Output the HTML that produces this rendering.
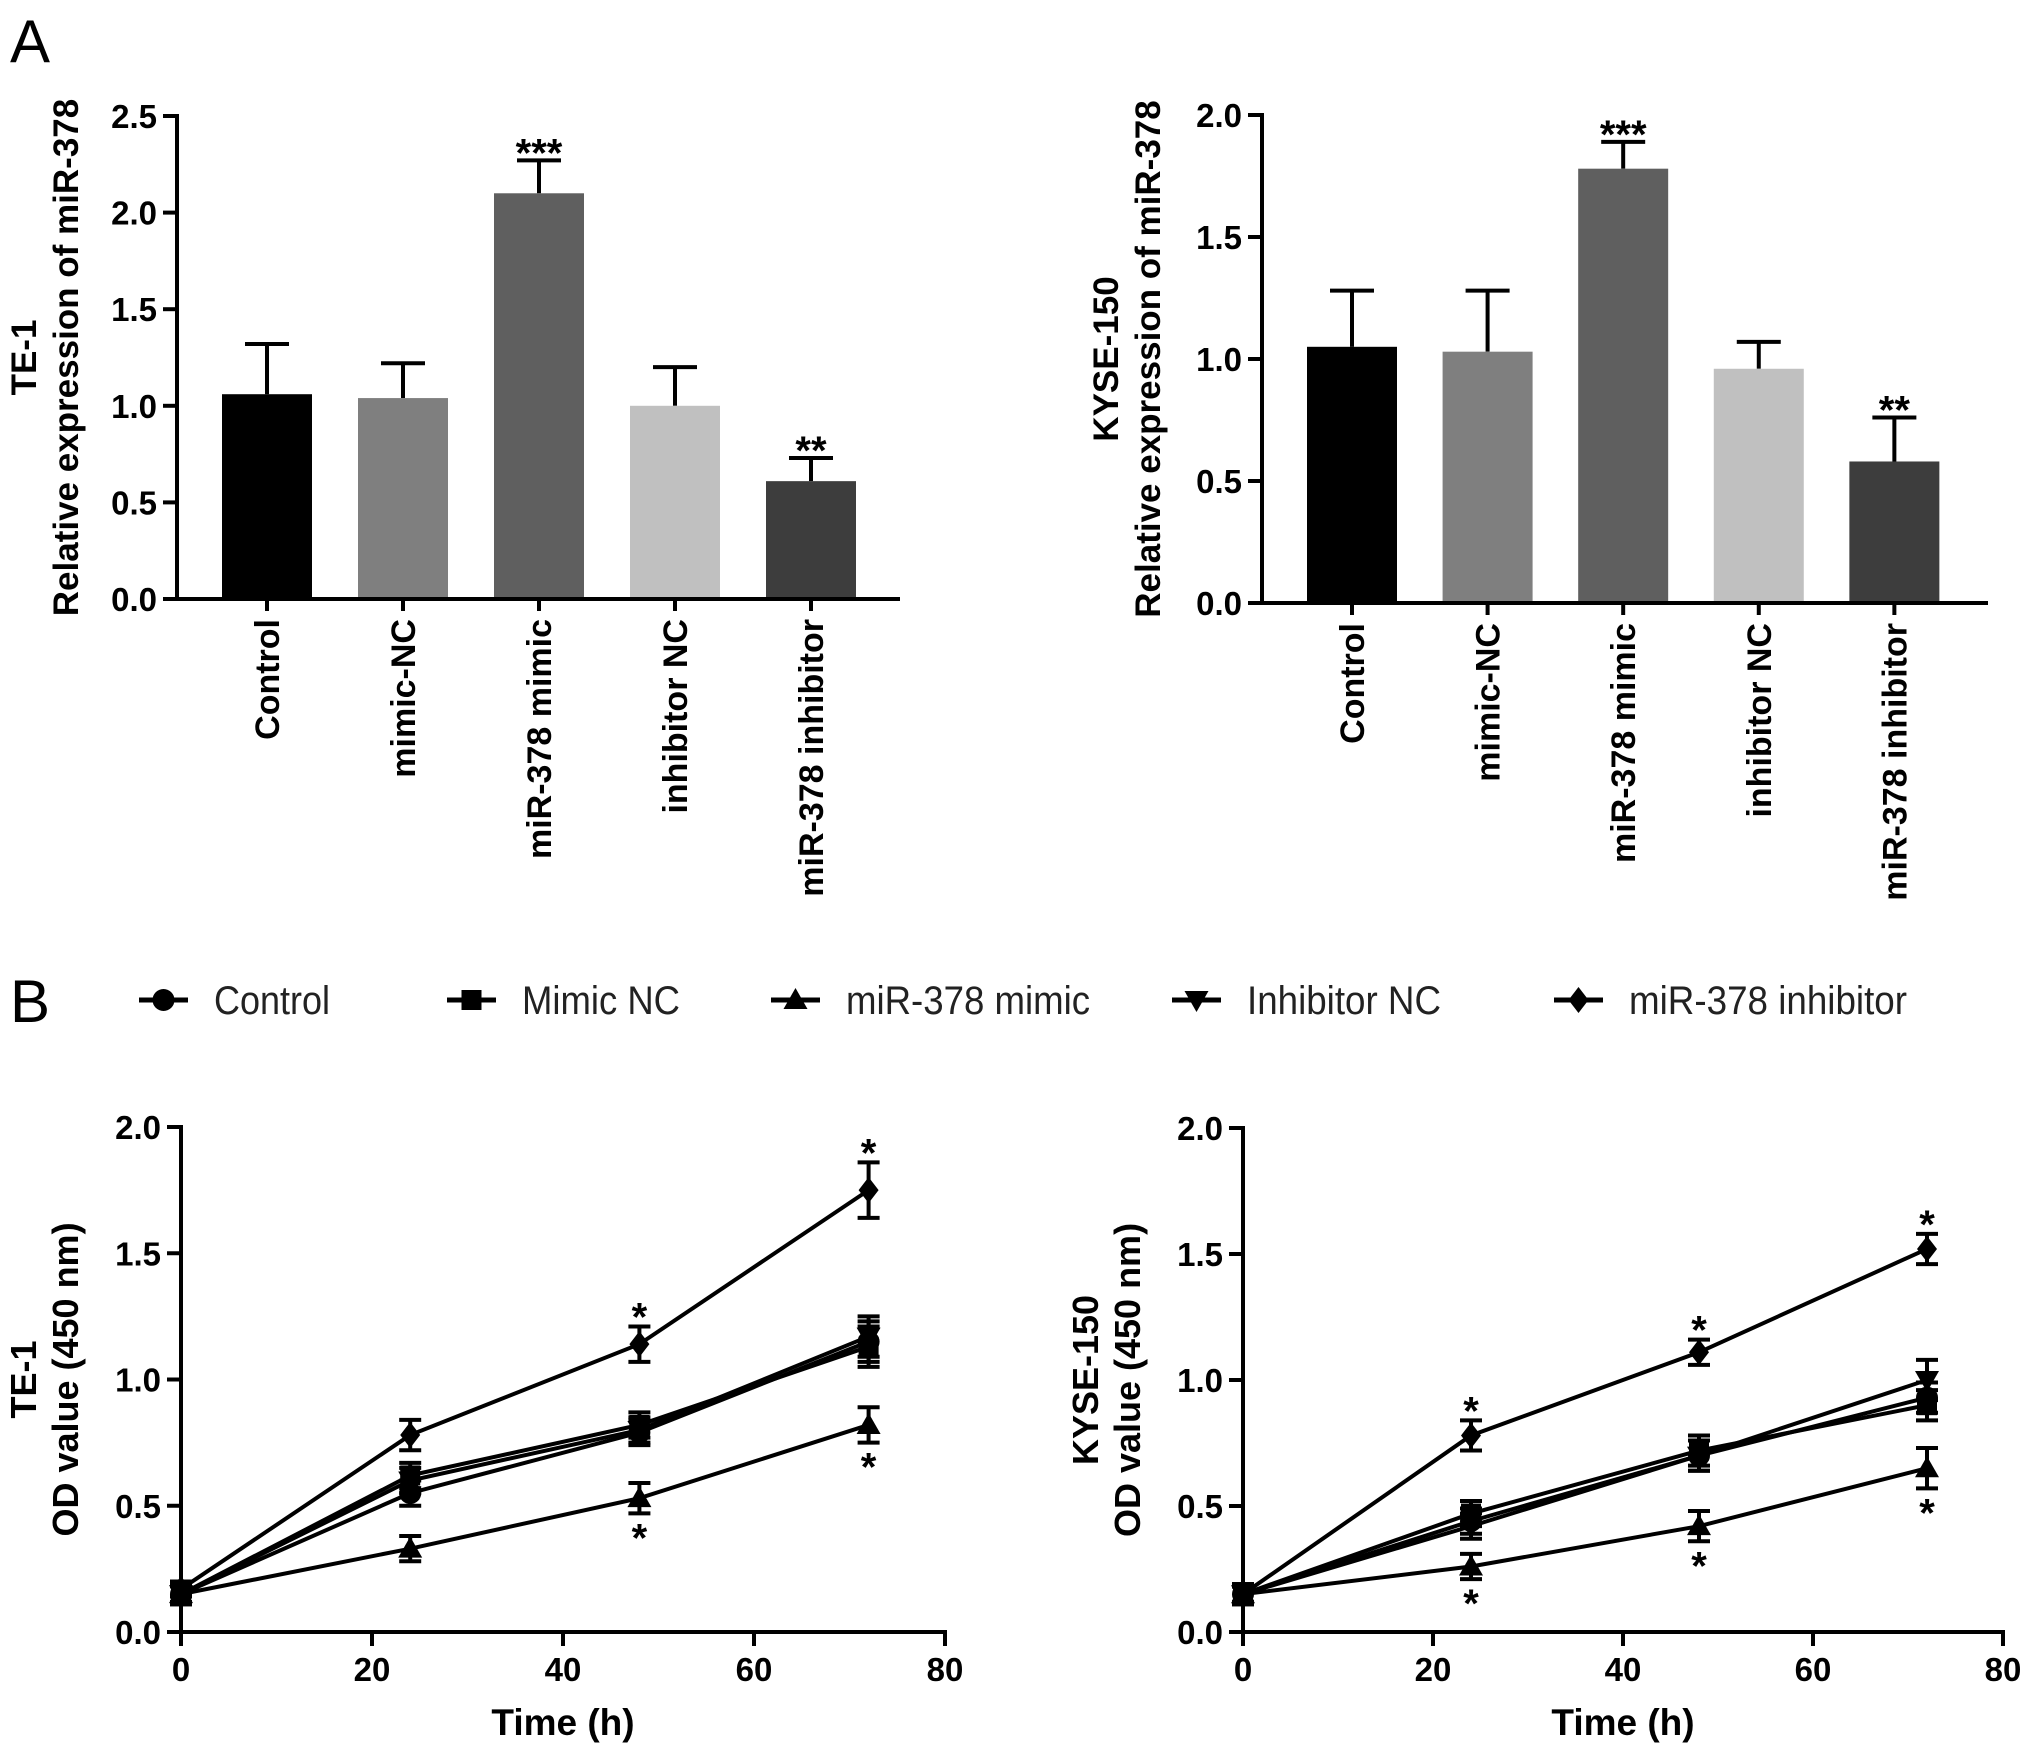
<!DOCTYPE html>
<html><head><meta charset="utf-8"><style>
html,body{margin:0;padding:0;background:#fff}
svg{display:block;font-family:"Liberation Sans",Arial,sans-serif}
</style></head><body>
<svg id="fig" width="2031" height="1753" viewBox="0 0 2031 1753" xmlns="http://www.w3.org/2000/svg">
<text x="10" y="62" font-size="60">A</text>
<text x="10" y="1022" font-size="60">B</text>
<g id="legend"></g>
</svg>
<script>
const barCategories = ["Control","mimic-NC","miR-378 mimic","inhibitor NC","miR-378 inhibitor"];
const barColors = ["#000000","#7f7f7f","#5f5f5f","#c0c0c0","#3d3d3d"];
const te1BarValues = [1.06,1.04,2.10,1.00,0.61];
const te1BarErrors = [0.26,0.18,0.17,0.20,0.12];
const te1BarStars = ["","","***","","**"];
const te1BarTicks = [0,0.5,1.0,1.5,2.0,2.5];
const kyseBarValues = [1.05,1.03,1.78,0.96,0.58];
const kyseBarErrors = [0.23,0.25,0.11,0.11,0.18];
const kyseBarStars = ["","","***","","**"];
const kyseBarTicks = [0,0.5,1.0,1.5,2.0];

const seriesNames = ["Control","Mimic NC","miR-378 mimic","Inhibitor NC","miR-378 inhibitor"];
const seriesMarkers = ["circle","square","triangle","itriangle","diamond"];
const times = [0,24,48,72];
const te1Lines = [
 [0.15,0.55,0.79,1.15],
 [0.15,0.62,0.82,1.13],
 [0.15,0.33,0.53,0.82],
 [0.15,0.60,0.80,1.17],
 [0.17,0.78,1.14,1.75]];
const te1Errs = [
 [0.04,0.05,0.05,0.08],
 [0.04,0.05,0.05,0.08],
 [0.03,0.05,0.06,0.07],
 [0.04,0.05,0.05,0.08],
 [0.03,0.06,0.07,0.11]];
const kyseLines = [
 [0.15,0.44,0.70,0.93],
 [0.15,0.47,0.72,0.90],
 [0.15,0.26,0.42,0.65],
 [0.15,0.42,0.70,1.00],
 [0.15,0.78,1.11,1.52]];
const kyseErrs = [
 [0.04,0.05,0.06,0.06],
 [0.04,0.05,0.06,0.06],
 [0.03,0.05,0.06,0.08],
 [0.04,0.05,0.06,0.08],
 [0.03,0.06,0.05,0.06]];
const te1StarsAbove = [[4,2],[4,3]];
const te1StarsBelow = [[2,2],[2,3]];
const kyseStarsAbove = [[4,1],[4,2],[4,3]];
const kyseStarsBelow = [[2,1],[2,2],[2,3]];
const lineYTicks = [0,0.5,1.0,1.5,2.0];
const lineXTicks = [0,20,40,60,80];

const NS="http://www.w3.org/2000/svg";
const svg=document.getElementById('fig');
function el(tag,attrs,parent,txt){const e=document.createElementNS(NS,tag);for(const k in attrs)e.setAttribute(k,attrs[k]);if(txt!==undefined)e.textContent=txt;(parent||svg).appendChild(e);return e;}

function barPanel(o){
  const g=el('g',{});
  
  
  const y=v=>o.y0-(v/o.ymax)*(o.y0-o.ytop);
  const bx=i=>o.x0+90+136*i*o.sp;
  barCategories.forEach((c,i)=>{
    const cx=bx(i), top=y(o.vals[i]), et=y(o.vals[i]+o.errs[i]);
    const eb=el('line',{x1:cx,x2:cx,y1:top,y2:et,stroke:'#000','stroke-width':4},g);
    
    
    const cap=el('line',{x1:cx-22,x2:cx+22,y1:et,y2:et,stroke:'#000','stroke-width':4},g);
    
    
    const r=el('rect',{x:cx-45,y:top,width:90,height:o.y0-top,fill:barColors[i]},g);
    
    
    if(o.stars[i]){const s=el('text',{x:cx,y:et+6,'font-size':40,'font-weight':'bold','text-anchor':'middle'},g,o.stars[i]);
      
      }
    el('line',{x1:cx,x2:cx,y1:o.y0,y2:o.y0+12,stroke:'#000','stroke-width':4},g);
    const lb=el('text',{transform:`translate(${cx+12},${o.y0+20}) rotate(-90)`,'font-size':34,'font-weight':'bold','text-anchor':'end'},g,c);
    
    
  });
  el('line',{x1:o.x0,x2:o.x0,y1:o.ytop-2,y2:o.y0+2,stroke:'#000','stroke-width':4},g);
  el('line',{x1:o.x0-14,x2:o.xend,y1:o.y0,y2:o.y0,stroke:'#000','stroke-width':4},g);
  o.ticks.forEach(t=>{el('line',{x1:o.x0-14,x2:o.x0,y1:y(t),y2:y(t),stroke:'#000','stroke-width':4},g);
    const tl=el('text',{x:o.x0-20,y:y(t)+12,'font-size':33,'font-weight':'bold','text-anchor':'end'},g,t.toFixed(1));
    
    });
  const cy=(o.ytop+o.y0)/2;
  const t1=el('text',{transform:`translate(${o.t1x},${cy}) rotate(-90)`,'font-size':35,'font-weight':'bold','text-anchor':'middle'},g,o.t1);
  
  
  const t2=el('text',{transform:`translate(${o.t2x},${cy}) rotate(-90)`,'font-size':35,'font-weight':'bold','text-anchor':'middle'},g,'Relative expression of miR-378');
  
  
}
barPanel({name:'te1-bar-chart',x0:177,y0:599,ytop:116,ymax:2.5,xend:900,sp:1,vals:te1BarValues,errs:te1BarErrors,stars:te1BarStars,ticks:te1BarTicks,t1:'TE-1',t1x:36,t2x:78});
barPanel({name:'kyse-bar-chart',x0:1262,y0:603,ytop:115,ymax:2.0,xend:1988,sp:0.997,vals:kyseBarValues,errs:kyseBarErrors,stars:kyseBarStars,ticks:kyseBarTicks,t1:'KYSE-150',t1x:1118,t2x:1160});

function marker(g,type,x,y,s){
  let m;
  if(type==='circle')m=el('circle',{cx:x,cy:y,r:s*0.55},g);
  else if(type==='square')m=el('rect',{x:x-s*0.5,y:y-s*0.5,width:s,height:s},g);
  else if(type==='triangle')m=el('polygon',{points:`${x},${y-s*0.6} ${x-s*0.6},${y+s*0.45} ${x+s*0.6},${y+s*0.45}`},g);
  else if(type==='itriangle')m=el('polygon',{points:`${x},${y+s*0.6} ${x-s*0.6},${y-s*0.45} ${x+s*0.6},${y-s*0.45}`},g);
  else m=el('polygon',{points:`${x},${y-s*0.65} ${x+s*0.5},${y} ${x},${y+s*0.65} ${x-s*0.5},${y}`},g);
  m.setAttribute('fill','#000');
  return m;
}

function linePanel(o){
  const g=el('g',{});
  
  
  const X=t=>o.x0+(t/80)*(o.xend-o.x0);
  const Y=v=>o.y0-(v/2)*(o.y0-o.ytop);
  o.lines.forEach((vals,si)=>{
    const pts=vals.map((v,i)=>X(times[i])+','+Y(v)).join(' ');
    const pl=el('polyline',{points:pts,fill:'none',stroke:'#000','stroke-width':4},g);
    
    
    vals.forEach((v,i)=>{
      const x=X(times[i]),e=o.errs[si][i];
      const eb=el('path',{d:`M${x},${Y(v-e)}V${Y(v+e)}M${x-11},${Y(v-e)}H${x+11}M${x-11},${Y(v+e)}H${x+11}`,stroke:'#000','stroke-width':4,fill:'none'},g);
      
      
      const m=marker(g,seriesMarkers[si],x,Y(v),20);
      
      
    });
  });
  o.above.forEach(([s,i])=>{const v=o.lines[s][i]+o.errs[s][i];
    const t=el('text',{x:X(times[i]),y:Y(v)+4,'font-size':40,'font-weight':'bold','text-anchor':'middle'},g,'*');
    
    });
  o.below.forEach(([s,i])=>{const v=o.lines[s][i]-o.errs[s][i];
    const t=el('text',{x:X(times[i]),y:Y(v)+38,'font-size':40,'font-weight':'bold','text-anchor':'middle'},g,'*');
    
    });
  el('line',{x1:o.x0,x2:o.x0,y1:o.ytop-2,y2:o.y0+14,stroke:'#000','stroke-width':4},g);
  el('line',{x1:o.x0-14,x2:o.xend+2,y1:o.y0,y2:o.y0,stroke:'#000','stroke-width':4},g);
  lineYTicks.forEach(t=>{el('line',{x1:o.x0-14,x2:o.x0,y1:Y(t),y2:Y(t),stroke:'#000','stroke-width':4},g);
    const tl=el('text',{x:o.x0-20,y:Y(t)+12,'font-size':33,'font-weight':'bold','text-anchor':'end'},g,t.toFixed(1));
    
    });
  lineXTicks.forEach(t=>{el('line',{x1:X(t),x2:X(t),y1:o.y0,y2:o.y0+14,stroke:'#000','stroke-width':4},g);
    const tl=el('text',{x:X(t),y:o.y0+49,'font-size':33,'font-weight':'bold','text-anchor':'middle'},g,String(t));
    
    });
  const xt=el('text',{x:(o.x0+o.xend)/2,y:o.y0+103,'font-size':37,'font-weight':'bold','text-anchor':'middle'},g,'Time (h)');
  
  
  const cy=(o.ytop+o.y0)/2;
  const t1=el('text',{transform:`translate(${o.t1x},${cy}) rotate(-90)`,'font-size':36,'font-weight':'bold','text-anchor':'middle'},g,o.t1);
  
  
  const t2=el('text',{transform:`translate(${o.t2x},${cy}) rotate(-90)`,'font-size':36,'font-weight':'bold','text-anchor':'middle'},g,'OD value (450 nm)');
  
  
}
linePanel({name:'te1-line-chart',x0:181,xend:945,y0:1632,ytop:1127,lines:te1Lines,errs:te1Errs,above:te1StarsAbove,below:te1StarsBelow,t1:'TE-1',t1x:36,t2x:78});
linePanel({name:'kyse-line-chart',x0:1243,xend:2003,y0:1632,ytop:1128,lines:kyseLines,errs:kyseErrs,above:kyseStarsAbove,below:kyseStarsBelow,t1:'KYSE-150',t1x:1098,t2x:1140});

const lg=document.getElementById('legend');
const legendX=[139,447,771,1172,1554];
const legendTextW=[116,158,244,194,278];
seriesNames.forEach((n,i)=>{
  const g=el('g',{},lg);
  
  
  el('line',{x1:legendX[i],x2:legendX[i]+49,y1:1000,y2:1000,stroke:'#000','stroke-width':5},g);
  marker(g,seriesMarkers[i],legendX[i]+24.5,1000,20);
  el('text',{x:legendX[i]+75,y:1014,'font-size':40,textLength:legendTextW[i],lengthAdjust:'spacingAndGlyphs',fill:'#222'},g,n);
});
</script>
</body></html>
